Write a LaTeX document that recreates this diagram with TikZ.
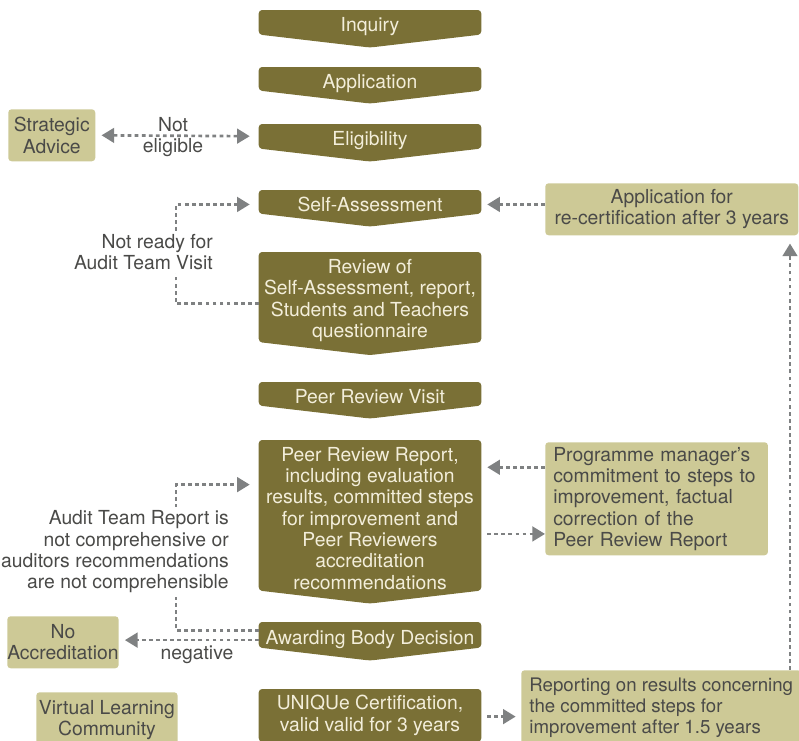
\documentclass[tikz,border=0pt]{standalone}
\usepackage{fontspec}
\setmainfont{TeX Gyre Heros}
\usetikzlibrary{arrows.meta,backgrounds}

\definecolor{chevfill}{HTML}{7A7036}
\definecolor{boxfill}{HTML}{CDC996}
\definecolor{chevtext}{HTML}{F3EEDA}
\definecolor{boxtext}{HTML}{4A4A48}
\definecolor{linkgray}{HTML}{7F8182}

\tikzset{
  stage/.style={text=chevtext, anchor=north, minimum width=166.5pt, align=center,
    inner xsep=1pt, inner ysep=0pt},
  oneline/.style={text height=14pt, text depth=0pt},
  sidebox/.style={fill=boxfill, text=boxtext, rounded corners=2.5pt, anchor=north west,
    inner xsep=2pt, inner ysep=0pt},
  note/.style={text=boxtext, inner sep=0pt},
  link/.style={draw=linkgray, line width=2pt, dash pattern=on 2.8pt off 2.5pt},
}

\begin{document}
\begin{tikzpicture}[x=0.75pt, y=-0.75pt, font=\fontsize{14.5}{16}\selectfont,
  >={Triangle[length=9.5pt,width=11pt]}]
  \clip (0,0) rectangle (799,740);

  % Main stages
  \node[stage, oneline, minimum height=18pt]    (inquiry)     at (370,10)  {Inquiry};
  \node[stage, oneline, minimum height=17.25pt] (application) at (370,67)  {Application};
  \node[stage, oneline, minimum height=18pt]    (eligibility) at (370,124) {Eligibility};
  \node[stage, oneline, minimum height=17.25pt] (selfassess)  at (370,190) {Self-Assessment};
  \node[stage, minimum height=63.75pt] (review)      at (370,252) {\rule{0pt}{16pt}Review of\\Self-Assessment, report,\\Students and Teachers\\questionnaire};
  \node[stage, oneline, minimum height=17.25pt] (visit)       at (370,382) {Peer Review Visit};
  \node[stage, minimum height=112.5pt] (report)      at (370,440) {\rule{0pt}{15pt}Peer Review Report,\\including evaluation\\results, committed steps\\for improvement and\\Peer Reviewers\\accreditation\\recommendations};
  \node[stage, oneline, minimum height=18.75pt] (decision)    at (370,622) {Awarding Body Decision};
  \node[stage, minimum height=39pt]    (certif)      at (370,689) {UNIQUe Certification,\\valid valid for 3 years};

  % Chevron shapes behind the stage texts
  \begin{scope}[on background layer]
    \foreach \n in {inquiry,application,eligibility,selfassess,review,visit,report,decision,certif}
      \fill[chevfill, rounded corners=2.5pt] (\n.north west) -- (\n.north east) -- (\n.south east)
        -- ([yshift=-9.75pt]\n.south) -- (\n.south west) -- cycle;
  \end{scope}

  % Side boxes
  \node[sidebox, minimum width=65.25pt, minimum height=39pt, align=center] (strategic) at (8,109) {Strategic\\Advice};
  \node[sidebox, minimum width=189.75pt, minimum height=39pt, align=center] (recert) at (545,183) {Application for\\re-certification after 3 years};
  \node[sidebox, text width=155pt, inner xsep=6pt, minimum height=84.75pt, align=left] (manager) at (545,442) {Programme manager's\\commitment to steps to\\improvement, factual\\correction of the\\Peer Review Report};
  \node[sidebox, minimum width=210pt, inner xsep=6pt, minimum height=56pt, align=left,
    font=\fontsize{14}{16}\selectfont] (reporting) at (521,670) {Reporting on results concerning\\the committed steps for\\improvement after 1.5 years\hfill\null};
  \node[sidebox, minimum width=83.25pt, minimum height=39pt, inner xsep=0pt, align=center] (noaccr) at (7,616) {No\\Accreditation};
  \node[sidebox, minimum width=105.75pt, minimum height=42pt, align=center] (community) at (36,692) {Virtual Learning\\Community};

  % Helper coordinates for the loops
  \coordinate (loopx) at (176,0);
  \coordinate (upx) at (790,0);

  % Connectors
  \draw[link, <->, shorten <=4.5pt, shorten >=6.75pt] (strategic.east) -- (eligibility.west);
  \node[note, align=center] (noteelig) at (173,137) {Not\\eligible};

  \draw[link, ->, shorten >=4.5pt] ([yshift=-2pt]selfassess.east -| recert.west) -- ([yshift=-2pt]selfassess.east);

  \draw[link, ->, shorten >=6.75pt] ([yshift=-5pt]review.west) -- ([yshift=-5pt]review.west -| loopx)
    -- ([yshift=-2pt]selfassess.west -| loopx) -- ([yshift=-2pt]selfassess.west);
  \node[note, align=right, anchor=east, fill=white, inner ysep=2pt] (notready) at (213,252) {Not ready for\\Audit Team Visit};

  \draw[link, ->, shorten >=4.5pt] ([yshift=36pt]report.east -| manager.west) -- ([yshift=36pt]report.east);
  \draw[link, ->, shorten <=4.5pt] ([yshift=-14pt]report.east) -- ([yshift=-14pt]report.east -| manager.west);

  \draw[link, ->, shorten >=6.75pt] ([yshift=3.4pt]decision.west) -- ([yshift=3.4pt]decision.west -| loopx)
    -- ([yshift=23pt]report.west -| loopx) -- ([yshift=23pt]report.west);
  \node[note, align=right, anchor=east, fill=white, inner ysep=3pt] (notcompr) at (229,552) {Audit Team Report is\\not comprehensive or\\auditors recommendations\\are not comprehensible};

  \draw[link, ->, shorten >=4.5pt] ([yshift=-4pt]decision.west) -- ([yshift=-4pt]decision.west -| noaccr.east);
  \node[note] (negative) at (197,655) {negative};

  \draw[link, ->, shorten <=4.5pt, shorten >=4pt] ([yshift=-1pt]certif.east) -- ([yshift=-1pt]certif.east -| reporting.west);

  \draw[link, ->, shorten >=6pt] (reporting.north -| upx) -- (recert.south -| upx);
\end{tikzpicture}
\end{document}
